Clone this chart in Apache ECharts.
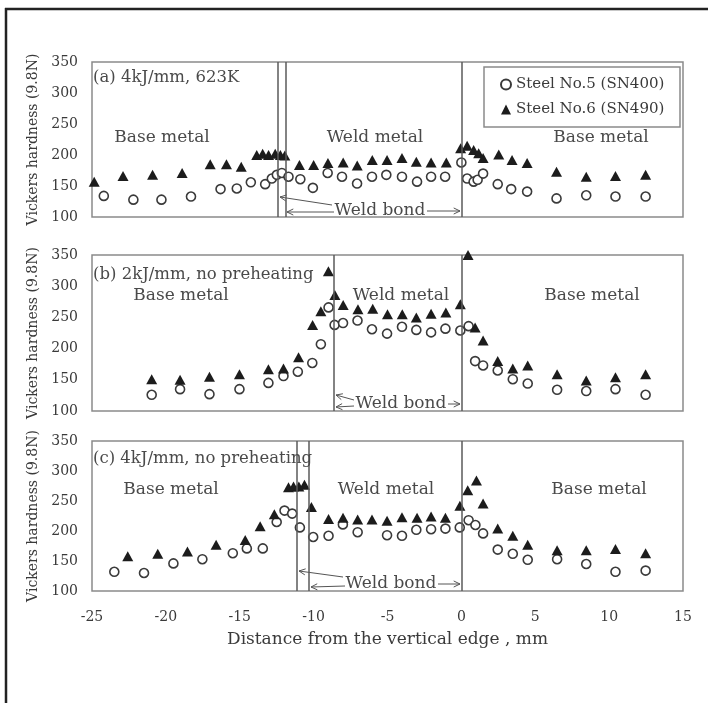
<!DOCTYPE html>
<html>
<head>
<meta charset="utf-8">
<script src="https://cdn.jsdelivr.net/npm/echarts@6/dist/echarts.min.js"></script>
<style>html,body{margin:0;padding:0;background:#fff}#c{width:708px;height:703px}</style>
</head>
<body>
<div id="c"></div>
<script>
// ---------- data ----------
const xTicks = [-25, -20, -15, -10, -5, 0, 5, 10, 15];
const yTicks = [100, 150, 200, 250, 300, 350];
const seriesNames = ['Steel No.5 (SN400)', 'Steel No.6 (SN490)'];
const panelTitles = ['(a) 4kJ/mm, 623K', '(b) 2kJ/mm, no preheating', '(c) 4kJ/mm, no preheating'];

// panel (a)
const a5 = [[-24.2,134],[-22.2,128],[-20.3,128],[-18.3,133],[-16.3,145],[-15.2,146],[-14.25,156],[-13.28,153],[-12.83,162],[-12.49,168],[-12.15,171],[-11.7,165],[-10.9,161],[-10.05,147],[-9.05,171],[-8.08,165],[-7.06,154],[-6.05,165],[-5.08,168],[-4.02,165],[-3.0,157],[-2.05,165],[-1.1,165],[0,188],[0.39,162],[0.83,157],[1.1,160],[1.47,170],[2.46,153],[3.37,145],[4.45,141],[6.44,130],[8.45,135],[10.43,133],[12.47,133]];
const a6 = [[-24.85,157],[-22.9,166],[-20.9,168],[-18.9,171],[-17.0,185],[-15.9,185],[-14.9,181],[-13.85,200],[-13.45,202],[-13.05,200],[-12.6,202],[-12.25,200],[-11.95,199],[-10.96,184],[-10.0,184],[-9.03,187],[-8.0,188],[-7.05,183],[-6.03,192],[-5.03,192],[-4.02,195],[-3.05,189],[-2.05,188],[-1.02,188],[-0.05,211],[0.39,215],[0.83,208],[1.17,203],[1.47,195],[2.53,201],[3.43,192],[4.45,187],[6.44,173],[8.45,165],[10.43,166],[12.47,168]];
// panel (b)
const b5 = [[-20.96,126],[-19.04,135],[-17.05,127],[-15.02,135],[-13.06,145],[-12.04,156],[-11.07,163],[-10.09,177],[-9.51,207],[-8.99,266],[-8.58,238],[-8.01,241],[-7.03,245],[-6.05,231],[-5.03,224],[-4.02,235],[-3.05,230],[-2.05,226],[-1.08,232],[-0.07,229],[0.49,236],[0.93,180],[1.47,173],[2.46,165],[3.48,151],[4.49,144],[6.48,134],[8.45,132],[10.43,135],[12.47,126]];
const b6 = [[-20.96,151],[-19.04,150],[-17.05,155],[-15.02,159],[-13.06,167],[-12.04,168],[-11.02,186],[-10.07,238],[-9.51,260],[-9.0,324],[-8.56,286],[-8.0,270],[-7.0,263],[-6.0,264],[-5.0,255],[-4.0,255],[-3.05,250],[-2.05,256],[-1.05,258],[-0.07,271],[0.45,350],[0.93,234],[1.47,213],[2.46,180],[3.48,168],[4.49,173],[6.48,159],[8.45,149],[10.43,154],[12.47,159]];
// panel (c)
const c5 = [[-23.49,132],[-21.48,130],[-19.49,146],[-17.53,153],[-15.47,163],[-14.52,171],[-13.44,171],[-12.5,215],[-11.97,234],[-11.45,229],[-10.93,206],[-10.03,190],[-8.99,192],[-8.02,211],[-7.02,198],[-5.03,193],[-4.02,192],[-3.05,202],[-2.05,203],[-1.08,204],[-0.11,206],[0.49,218],[0.95,210],[1.47,196],[2.46,169],[3.48,162],[4.49,152],[6.48,153],[8.45,145],[10.43,132],[12.47,134]];
const c6 = [[-22.58,158],[-20.55,162],[-18.54,166],[-16.6,177],[-14.63,185],[-13.62,208],[-12.66,228],[-11.7,273],[-11.36,274],[-11.0,274],[-10.62,277],[-10.15,240],[-8.99,220],[-8.01,222],[-7.02,219],[-6.05,219],[-5.03,217],[-4.02,223],[-3.0,222],[-2.05,224],[-1.08,222],[-0.1,242],[0.43,268],[1.02,284],[1.47,246],[2.46,204],[3.48,192],[4.49,177],[6.48,168],[8.45,168],[10.43,170],[12.47,163]];
// weld bond positions (vertical lines) per panel
const bondA = [-12.42, -11.92, 0];
const bondB = [-8.67, 0];
const bondC = [-11.15, -10.3, 0];

// ---------- layout ----------
const FONT = 'DejaVu Serif';
const grids = [
  {left: 92, top: 62, width: 591, height: 155},
  {left: 92, top: 255, width: 591, height: 156},
  {left: 92, top: 441, width: 591, height: 150}
];
const panels = [[a5, a6, bondA], [b5, b6, bondB], [c5, c6, bondC]];

const option = {
  animation: false,
  backgroundColor: '#fff',
  textStyle: {fontFamily: FONT},
  grid: grids.map(g => Object.assign({show: true, borderColor: '#8a8a8a', borderWidth: 1.5, backgroundColor: 'transparent'}, g)),
  xAxis: grids.map((g, i) => ({
    type: 'value', gridIndex: i,
    min: xTicks[0], max: xTicks[xTicks.length - 1], interval: xTicks[1] - xTicks[0],
    axisLine: {show: false}, axisTick: {show: false}, splitLine: {show: false},
    axisLabel: {show: i === 2, margin: 19, fontSize: 14, fontFamily: FONT, color: '#3a3a3a'},
    name: i === 2 ? 'Distance from the vertical edge , mm' : '',
    nameLocation: 'middle', nameGap: 40,
    nameTextStyle: {fontSize: 17, fontFamily: FONT, color: '#3a3a3a'}
  })),
  yAxis: grids.map((g, i) => ({
    type: 'value', gridIndex: i,
    min: yTicks[0], max: yTicks[yTicks.length - 1], interval: yTicks[1] - yTicks[0],
    axisLine: {show: false}, axisTick: {show: false}, splitLine: {show: false},
    axisLabel: {margin: 14, fontSize: 14, fontFamily: FONT, color: '#3a3a3a'},
    name: 'Vickers hardness (9.8N)', nameLocation: 'middle', nameGap: 51, nameRotate: 90,
    nameTextStyle: {fontSize: 14, fontFamily: FONT, color: '#3a3a3a'}
  })),
  legend: {
    orient: 'vertical', left: 500, top: 76, padding: 0, itemGap: 8,
    itemWidth: 10, itemHeight: 10,
    textStyle: {fontSize: 15, fontFamily: FONT, color: '#3a3a3a', lineHeight: 17},
    data: [{name: seriesNames[0], icon: 'circle'}, {name: seriesNames[1], icon: 'triangle'}]
  },
  series: []
};

panels.forEach((p, i) => {
  option.series.push({
    type: 'scatter', name: seriesNames[0], xAxisIndex: i, yAxisIndex: i,
    data: p[0], symbol: 'circle', symbolSize: 9, clip: false, z: 3,
    itemStyle: {color: '#fff', borderColor: '#3a3a3a', borderWidth: 1.6, opacity: 1}
  });
  option.series.push({
    type: 'scatter', name: seriesNames[1], xAxisIndex: i, yAxisIndex: i,
    data: p[1], symbol: 'triangle', symbolSize: [11, 10], clip: false, z: 4,
    itemStyle: {color: '#1c1c1c', opacity: 1},
    markLine: {
      silent: true, symbol: 'none', animation: false,
      label: {show: false},
      lineStyle: {color: '#5a5a5a', width: 1.5, type: 'solid'},
      data: p[2].map(v => ({xAxis: v}))
    }
  });
});

// ---------- annotations ----------
function txt(x, y, s, size, align) {
  return {type: 'text', x: x, y: y, z: 50, silent: true,
    style: {text: s, fontSize: size, fontFamily: FONT, fill: '#4a4a4a',
      align: align || 'center', verticalAlign: 'middle'}};
}
function arrow(x1, y1, x2, y2) {
  const a = Math.atan2(y2 - y1, x2 - x1), L = 7, w = 0.45;
  return {type: 'group', z: 50, silent: true, children: [
    {type: 'line', shape: {x1: x1, y1: y1, x2: x2, y2: y2}, style: {stroke: '#555', lineWidth: 1}},
    {type: 'polyline', shape: {points: [
      [x2 - L * Math.cos(a - w), y2 - L * Math.sin(a - w)], [x2, y2],
      [x2 - L * Math.cos(a + w), y2 - L * Math.sin(a + w)]]}, style: {stroke: '#555', lineWidth: 1, fill: null}}
  ]};
}
option.graphic = [
  // outer frame
  {type: 'line', shape: {x1: 5, y1: 9, x2: 708, y2: 9}, style: {stroke: '#222', lineWidth: 2.5}},
  {type: 'line', shape: {x1: 6, y1: 8, x2: 6, y2: 703}, style: {stroke: '#222', lineWidth: 2.5}},
  // legend box
  {type: 'rect', shape: {x: 484, y: 67, width: 196, height: 60}, style: {fill: '#fff', stroke: '#8a8a8a', lineWidth: 1.5}, z: -1},
  // panel (a)
  txt(93, 78, panelTitles[0], 16.5, 'left'),
  txt(162, 138, 'Base metal', 17), txt(375, 138, 'Weld metal', 17), txt(601, 138, 'Base metal', 17),
  txt(380, 211, 'Weld bond', 17),
  arrow(332, 205, 280, 197), arrow(334, 212, 287, 212), arrow(427, 211, 460, 211),
  // panel (b)
  txt(93, 275, panelTitles[1], 16.5, 'left'),
  txt(181, 296, 'Base metal', 17), txt(401, 296, 'Weld metal', 17), txt(592, 296, 'Base metal', 17),
  txt(401, 404, 'Weld bond', 17),
  arrow(354, 400, 336, 395), arrow(354, 406, 336, 407), arrow(448, 404, 460, 404),
  // panel (c)
  txt(93, 459, panelTitles[2], 16.5, 'left'),
  txt(171, 490, 'Base metal', 17), txt(386, 490, 'Weld metal', 17), txt(599, 490, 'Base metal', 17),
  txt(391, 584, 'Weld bond', 17),
  arrow(343, 577, 299, 571), arrow(345, 586, 311, 587), arrow(438, 584, 460, 584)
];

const chart = echarts.init(document.getElementById('c'), null, {renderer: 'canvas'});
chart.setOption(option);
</script>
</body>
</html>
